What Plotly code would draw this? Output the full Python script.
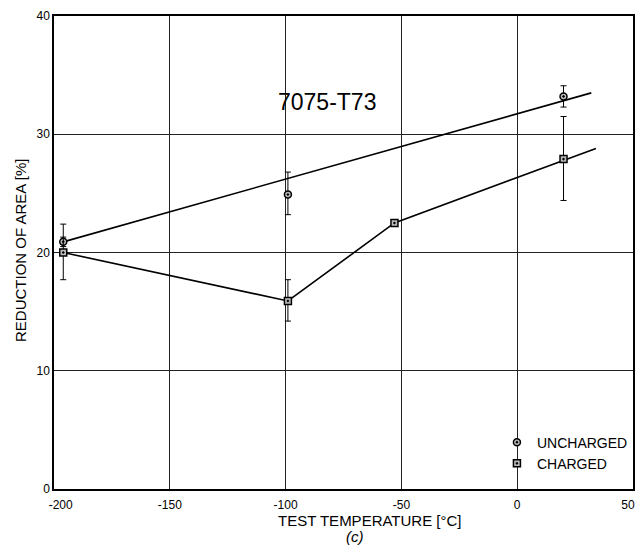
import plotly.graph_objects as go

# Data
temp_unch = [-196, -99, 20]
ra_unch = [20.9, 24.9, 33.2]
err_unch_plus = [0.4, 1.9, 0.9]
err_unch_minus = [0.4, 1.7, 0.9]

temp_ch = [-196, -99, -53, 20]
ra_ch = [20.0, 15.9, 22.5, 27.9]
err_ch_plus = [2.4, 1.8, 0.0, 3.6]
err_ch_minus = [2.3, 1.7, 0.0, 3.5]

fit_unch_x = [-196, 32]
fit_unch_y = [20.9, 33.5]
fit_ch_x = [-196, -99, -53, 34]
fit_ch_y = [20.0, 15.9, 22.5, 28.8]

x_ticks = [-200, -150, -100, -50, 0, 50]
y_ticks = [0, 10, 20, 30, 40]

FONT = "Liberation Sans"
NB = "\u00a0"

# edge labels nudged inward as in the reference
x_ticktext = [str(v) for v in x_ticks]
x_ticktext[0] = NB * 4 + x_ticktext[0]
x_ticktext[-1] = x_ticktext[-1] + NB * 3

fig = go.Figure()
fig.add_trace(go.Scatter(x=fit_unch_x, y=fit_unch_y, mode="lines",
                         line=dict(color="black", width=1.6), showlegend=False, hoverinfo="skip"))
fig.add_trace(go.Scatter(x=fit_ch_x, y=fit_ch_y, mode="lines",
                         line=dict(color="black", width=1.6), showlegend=False, hoverinfo="skip"))
fig.add_trace(go.Scatter(x=temp_unch, y=ra_unch, mode="markers", name="UNCHARGED",
                         marker=dict(symbol="circle-dot", size=7, color="#bbbbbb",
                                     line=dict(color="black", width=1.5)),
                         error_y=dict(type="data", symmetric=False, array=err_unch_plus,
                                      arrayminus=err_unch_minus, color="black", thickness=1, width=3)))
fig.add_trace(go.Scatter(x=temp_ch, y=ra_ch, mode="markers", name="CHARGED",
                         marker=dict(symbol="square-dot", size=7, color="#bbbbbb",
                                     line=dict(color="black", width=1.5)),
                         error_y=dict(type="data", symmetric=False, array=err_ch_plus,
                                      arrayminus=err_ch_minus, color="black", thickness=1, width=3)))

fig.add_annotation(x=-82, y=32.7, text="7075-T73", showarrow=False,
                   font=dict(family=FONT, size=23, color="black"))
fig.add_annotation(x=0.545, y=-0.066, xref="paper", yref="paper", text="TEST TEMPERATURE [°C]",
                   showarrow=False, yanchor="middle",
                   font=dict(family=FONT, size=15, color="black"))
fig.add_annotation(x=0.52, y=-0.101, xref="paper", yref="paper", text="<i>(c)</i>",
                   showarrow=False, yanchor="middle",
                   font=dict(family=FONT, size=15, color="black"))
fig.add_annotation(x=-0.059, y=0.505, xref="paper", yref="paper", text="REDUCTION OF AREA [%]",
                   showarrow=False, textangle=-90, xanchor="center", yanchor="middle",
                   font=dict(family=FONT, size=15, color="black"))

fig.update_layout(
    width=637, height=546,
    margin=dict(l=54, r=4, t=16, b=57, autoexpand=False),
    paper_bgcolor="white", plot_bgcolor="white",
    font=dict(family=FONT, size=12, color="black"),
    legend=dict(x=0.765, y=0.02, xanchor="left", yanchor="bottom",
                bgcolor="rgba(0,0,0,0)", font=dict(family=FONT, size=14),
                tracegroupgap=0),
)
fig.update_xaxes(range=[-200, 50], tickvals=x_ticks, ticktext=x_ticktext,
                 showgrid=True, gridcolor="#222", gridwidth=1, zeroline=False,
                 showline=True, linecolor="black", linewidth=1.5, mirror=True,
                 ticks="", tickfont=dict(size=12), automargin=False,
                 ticklabeloverflow="allow", ticklabelstandoff=4)
fig.update_yaxes(range=[0, 40], tickvals=y_ticks,
                 showgrid=True, gridcolor="#222", gridwidth=1, zeroline=False,
                 showline=True, linecolor="black", linewidth=1.5, mirror=True,
                 ticks="", tickfont=dict(size=12), automargin=False)

fig.write_html("out.html", config={"displayModeBar": False},
               post_script="document.body.style.margin='0px';")
